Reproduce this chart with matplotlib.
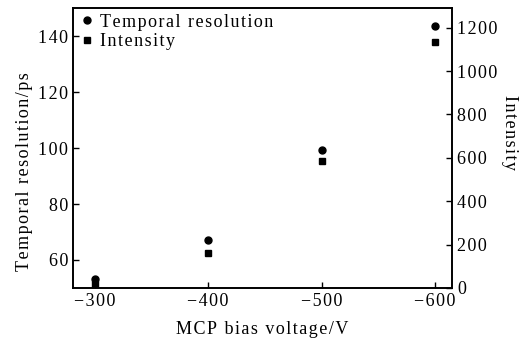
import matplotlib
matplotlib.use("Agg")
import matplotlib.pyplot as plt

# ------------------------------
# Data
# ------------------------------
bias_voltage = [-300, -400, -500, -600]
temporal_resolution = [53.2, 67.3, 99.3, 143.5]
intensity = [18, 163, 586, 1135]

x_ticks = [-300, -400, -500, -600]
left_ticks = [60, 80, 100, 120, 140]
right_ticks = [0, 200, 400, 600, 800, 1000, 1200]


def spaced(text):
    # the reference typesetting uses a loose letter spacing
    return "\u200a".join(text)


plt.rcParams["font.family"] = ["Liberation Serif", "DejaVu Serif"]
plt.rcParams["font.size"] = 13

fig, ax = plt.subplots(figsize=(5.25, 3.4), dpi=100)
fig.subplots_adjust(left=0.139, right=0.861, top=0.976, bottom=0.153)

p1, = ax.plot(bias_voltage, temporal_resolution, "o", color="black",
              markersize=5, linestyle="none")
ax.set_xlim(-281, -615)
ax.set_ylim(50, 150)
ax.set_xticks(x_ticks)
ax.set_xticklabels([spaced("\u2212" + str(abs(v))) for v in x_ticks])
ax.set_yticks(left_ticks)
ax.set_yticklabels([spaced(str(v)) for v in left_ticks])
ax.set_xlabel(spaced("MCP bias voltage/V"), labelpad=8)
ax.set_ylabel(spaced("Temporal resolution/ps"))
ax.yaxis.label.set_y(0.416)
ax.tick_params(direction="in", length=4, width=1, top=False)

ax2 = ax.twinx()
p2, = ax2.plot(bias_voltage, intensity, "s", color="black",
               markersize=5, linestyle="none")
ax2.set_ylim(0, 1290)
ax2.set_yticks(right_ticks)
ax2.set_yticklabels([spaced(str(v)) for v in right_ticks])
ax2.set_ylabel(spaced("Intensity"), rotation=270, labelpad=15)
ax2.yaxis.label.set_y(0.556)
ax2.tick_params(direction="in", length=4, width=1)

for spine in list(ax.spines.values()) + list(ax2.spines.values()):
    spine.set_linewidth(1.2)

ax.legend(handles=[p1, p2],
          labels=[spaced("Temporal resolution"), spaced("Intensity")],
          loc="upper left", frameon=False,
          handletextpad=0.2, borderaxespad=0.1, handlelength=1.0,
          labelspacing=0.15, borderpad=0.2)

fig.savefig("out.png", dpi=100)
